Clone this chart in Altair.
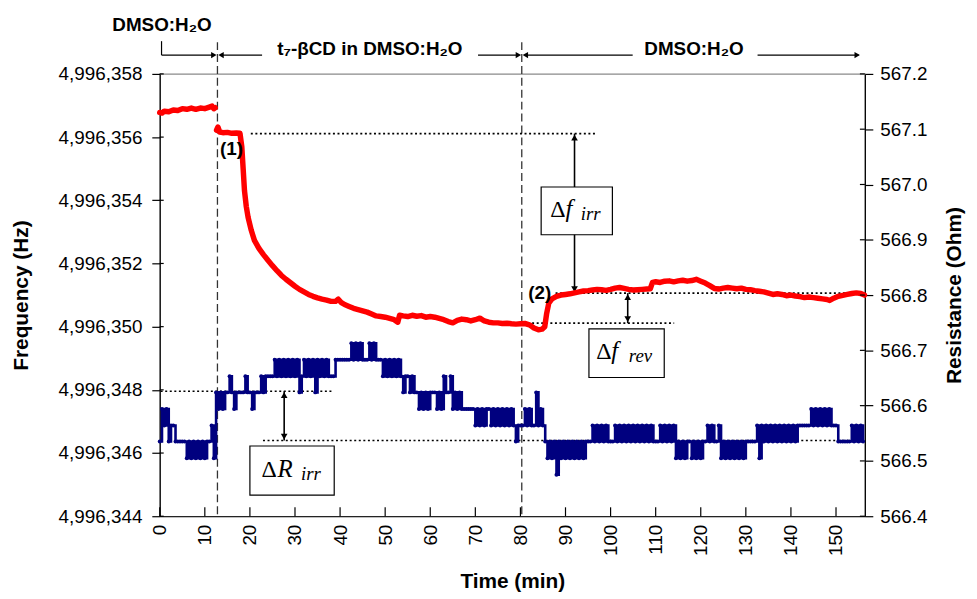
import altair as alt
import pandas as pd

# ---------------- data ----------------
# Frequency trace (red), two segments (break at the solution change)
RED1_T = [0, 0.5, 1, 2, 3, 4, 5, 6, 7, 8, 9, 10, 11, 11.6, 12.0, 12.3]
RED1_F = [4996356.78, 4996356.76, 4996356.82, 4996356.80, 4996356.86, 4996356.84,
          4996356.90, 4996356.88, 4996356.92, 4996356.88, 4996356.92, 4996356.90,
          4996356.95, 4996356.98, 4996356.90, 4996356.93]

RED2_T = [12.6, 12.9, 13.3, 14, 15, 16, 17, 17.8, 18.2, 18.5, 18.8, 19.2, 19.6, 20.3,
          21, 22, 23, 24, 25, 26, 27, 28, 29, 30, 31, 32, 33, 34, 35, 36, 37, 38, 39,
          39.6, 40.2, 41, 42, 43, 44, 45, 46, 47, 48, 49, 50, 51, 52, 52.8, 53.2, 54,
          55, 56, 57, 58, 59, 60, 61, 62, 63, 64, 65, 66, 67, 68, 69, 70, 71, 72, 73,
          74, 75, 76, 77, 78, 79, 80, 81, 82, 83, 84, 84.8, 85.4, 85.8, 86.3, 87, 88,
          89, 90, 91, 92, 93, 94, 95, 96, 97, 98, 99, 100, 101, 102, 103, 104, 105,
          106, 107, 108, 108.8, 109.3, 110, 111, 112, 113, 114, 115, 116, 117, 118,
          119, 120, 121, 122, 123, 124, 125, 126, 127, 128, 129, 130, 131, 132, 133,
          134, 135, 136, 137, 138, 139, 140, 141, 142, 143, 144, 145, 146, 147, 148,
          148.6, 149.5, 150.5, 151.5, 152.5, 153.5, 154.5, 155.5, 156.3]
RED2_F = [4996356.22, 4996356.32, 4996356.16, 4996356.14, 4996356.15, 4996356.12,
          4996356.13, 4996356.12, 4996355.70, 4996355.00, 4996354.30, 4996353.80,
          4996353.46, 4996353.05, 4996352.73, 4996352.48, 4996352.28, 4996352.10,
          4996351.93, 4996351.77, 4996351.62, 4996351.50, 4996351.39, 4996351.28,
          4996351.18, 4996351.10, 4996351.02, 4996350.96, 4996350.91, 4996350.87,
          4996350.84, 4996350.80, 4996350.80, 4996350.87, 4996350.77, 4996350.70,
          4996350.64, 4996350.58, 4996350.54, 4996350.50, 4996350.46, 4996350.40,
          4996350.34, 4996350.32, 4996350.30, 4996350.26, 4996350.22, 4996350.14,
          4996350.36, 4996350.34, 4996350.32, 4996350.36, 4996350.33, 4996350.35,
          4996350.30, 4996350.32, 4996350.30, 4996350.26, 4996350.22, 4996350.16,
          4996350.12, 4996350.20, 4996350.24, 4996350.22, 4996350.18, 4996350.22,
          4996350.27, 4996350.18, 4996350.14, 4996350.12, 4996350.12, 4996350.10,
          4996350.11, 4996350.09, 4996350.08, 4996350.09, 4996350.10, 4996350.06,
          4996349.96, 4996349.90, 4996349.92, 4996350.00, 4996350.40, 4996350.75,
          4996350.88, 4996350.96, 4996351.00, 4996351.02, 4996351.04, 4996351.07,
          4996351.10, 4996351.13, 4996351.14, 4996351.16, 4996351.18, 4996351.17,
          4996351.15, 4996351.18, 4996351.22, 4996351.24, 4996351.21, 4996351.18,
          4996351.16, 4996351.17, 4996351.18, 4996351.19, 4996351.20, 4996351.40,
          4996351.42, 4996351.40, 4996351.44, 4996351.45, 4996351.42, 4996351.45,
          4996351.47, 4996351.44, 4996351.46, 4996351.50, 4996351.44, 4996351.38,
          4996351.30, 4996351.21, 4996351.19, 4996351.22, 4996351.24, 4996351.22,
          4996351.20, 4996351.22, 4996351.18, 4996351.17, 4996351.14, 4996351.12,
          4996351.10, 4996351.06, 4996351.02, 4996351.04, 4996351.02, 4996350.98,
          4996351.00, 4996350.97, 4996350.95, 4996350.92, 4996350.94, 4996350.92,
          4996350.90, 4996350.88, 4996350.86, 4996350.83, 4996350.90, 4996350.96,
          4996350.99, 4996351.02, 4996351.05, 4996351.07, 4996351.05, 4996351.00]

# Resistance trace (blue): quantised instrument levels and the level index of every sample
R_LEVELS = [566.475, 566.505, 566.535, 566.564, 566.594, 566.624, 566.653, 566.683, 566.713]
R_SAMPLE_MIN = 0.5  # sampling interval (min)
R_CODES = [
    2, 4, 3, 4, 2, 3, 3, 2, 2, 2,   # 0-4.5
    2, 2, 1, 2, 1, 2, 1, 2, 1, 2,   # 5
    1, 2, 2, 3, 1, 5, 4, 5, 4, 5,   # 10
    5, 6, 5, 4, 5, 5, 5, 5, 6, 5,   # 15
    5, 4, 5, 5, 5, 6, 5, 6, 6, 6,   # 20
    6, 7, 6, 7, 6, 7, 6, 7, 6, 7,   # 25
    6, 7, 5, 6, 7, 6, 7, 6, 7, 5,   # 30
    7, 6, 7, 6, 7, 6, 6, 6, 7, 7,   # 35
    7, 7, 7, 7, 7, 8, 7, 8, 7, 8,   # 40
    7, 7, 7, 8, 7, 8, 7, 7, 7, 6,   # 45
    7, 6, 7, 6, 7, 6, 7, 6, 5, 6,   # 50
    6, 5, 6, 5, 5, 4, 5, 4, 5, 4,   # 55
    5, 5, 5, 4, 5, 4, 6, 5, 5, 6,   # 60
    4, 5, 4, 5, 4, 4, 4, 4, 4, 4,   # 65
    3, 4, 3, 4, 3, 4, 4, 3, 4, 3,   # 70
    4, 3, 4, 3, 4, 3, 4, 3, 2, 3,   # 75
    3, 3, 4, 3, 4, 3, 3, 5, 3, 4,   # 80
    3, 2, 1, 2, 1, 2, 0, 2, 1, 2,   # 85
    1, 2, 1, 2, 1, 2, 1, 2, 1, 2,   # 90
    2, 2, 3, 2, 3, 2, 3, 2, 3, 2,   # 95
    2, 2, 3, 2, 3, 2, 3, 2, 3, 2,   # 100
    3, 2, 3, 2, 3, 2, 3, 2, 3, 2,   # 105
    2, 2, 3, 2, 3, 2, 3, 2, 3, 1,   # 110
    2, 1, 2, 1, 2, 2, 1, 2, 1, 2,   # 115
    1, 2, 2, 3, 2, 3, 2, 2, 3, 1,   # 120
    2, 1, 2, 1, 2, 1, 2, 1, 2, 1,   # 125
    2, 2, 2, 2, 2, 3, 1, 3, 2, 3,   # 130
    2, 3, 2, 3, 2, 3, 2, 3, 2, 3,   # 135
    2, 3, 2, 3, 3, 3, 3, 3, 3, 4,   # 140
    3, 4, 3, 4, 3, 4, 3, 4, 3, 3,   # 145
    3, 2, 2, 2, 2, 2, 2, 3, 2, 3,   # 150
    2, 3, 2,                        # 155-156
]

X_TICKS = [0, 10, 20, 30, 40, 50, 60, 70, 80, 90, 100, 110, 120, 130, 140, 150]
F_TICKS = [4996344, 4996346, 4996348, 4996350, 4996352, 4996354, 4996356, 4996358]
R_TICKS = [566.4, 566.5, 566.6, 566.7, 566.8, 566.9, 567.0, 567.1, 567.2]

CHANGE_T = [12.8, 80.3]           # solution changes (min)

# annotation values (frequency units)
F_DOTS = [(20.2, 96.8, 4996356.11), (87.8, 156.4, 4996351.06), (74.5, 114.1, 4996350.11)]
F_ARROWS = [(92.0, 4996356.11, 4996351.06), (103.8, 4996351.06, 4996350.11)]
F_BOXES = [(84.6, 100.4, 4996354.42, 4996352.91), (95.2, 111.9, 4996349.93, 4996348.39)]
# annotation values (resistance units)
R_DOTS = [(0.2, 38.3, 566.626), (22.9, 156.4, 566.537)]
R_ARROW = (27.6, 566.626, 566.537)
R_BOX = (20.0, 38.7, 566.527, 566.438)

# ---------------- styling ----------------
W, H = 711, 446
FONT = "Liberation Sans"
SERIF = "Liberation Serif"
RED = "#FF0000"
NAVY = "#00007F"

xs = alt.Scale(domain=[0, 156.4], nice=False, zero=False)
fs = alt.Scale(domain=[4996344, 4996358], nice=False, zero=False)
rs = alt.Scale(domain=[566.4, 567.2], nice=False, zero=False)

x_axis = alt.Axis(values=X_TICKS, labelAngle=270, labelAlign="right", labelBaseline="middle",
                  ticks=False, labelPadding=8, domainColor="black", domainWidth=1.2,
                  labelFont=FONT, labelFontSize=19, labelColor="black", grid=False,
                  title="Time (min)", titleFont=FONT, titleFontSize=21, titleFontWeight="bold",
                  titleColor="black", titleY=66, titleBaseline="middle")
f_axis = alt.Axis(values=F_TICKS, format=",d", orient="left", tickSize=8, tickColor="black",
                  tickWidth=1.2, labelPadding=10, domainColor="black", domainWidth=1.2,
                  labelFont=FONT, labelFontSize=19, labelColor="black", grid=False,
                  title="Frequency (Hz)", titleFont=FONT, titleFontSize=21,
                  titleFontWeight="bold", titleColor="black", titleX=-139, titleY=H / 2,
                  titleAngle=270, titleBaseline="middle", titleAlign="center")
r_axis = alt.Axis(values=R_TICKS, format=".1f", orient="right", tickSize=8, tickColor="black",
                  tickWidth=1.2, labelPadding=7, domainColor="black", domainWidth=1.2,
                  labelFont=FONT, labelFontSize=19, labelColor="black", grid=False,
                  title="Resistance (Ohm)", titleFont=FONT, titleFontSize=21,
                  titleFontWeight="bold", titleColor="black", titleX=90, titleY=H / 2,
                  titleAngle=270, titleBaseline="middle", titleAlign="center")


def X(f):
    return alt.X(f, type="quantitative", scale=xs, axis=x_axis)


def FY(f):
    return alt.Y(f, type="quantitative", scale=fs, axis=f_axis)


def RY(f):
    return alt.Y(f, type="quantitative", scale=rs, axis=r_axis)


# ---------------- frequency group ----------------
red_df = pd.DataFrame({
    "t": RED1_T + RED2_T,
    "f": RED1_F + RED2_F,
    "seg": ["a"] * len(RED1_T) + ["b"] * len(RED2_T),
})
red = alt.Chart(red_df).mark_line(color=RED, strokeWidth=5.5, strokeJoin="round",
                                  strokeCap="round").encode(x=X("t"), y=FY("f"), detail="seg:N")

fdots_df = pd.DataFrame(F_DOTS, columns=["t1", "t2", "f"])
fdots = alt.Chart(fdots_df).mark_rule(color="black", strokeWidth=1.7, strokeDash=[2, 2.6]).encode(
    x=X("t1"), x2=alt.X2("t2"), y=FY("f"))

farr_df = pd.DataFrame(F_ARROWS, columns=["t", "f1", "f2"])
farr = alt.Chart(farr_df).mark_rule(color="black", strokeWidth=1.6).encode(
    x=X("t"), y=FY("f1"), y2=alt.Y2("f2"))
fhead_up = alt.Chart(farr_df).mark_point(shape="triangle-up", filled=True, color="black",
                                         size=45, opacity=1, yOffset=4).encode(x=X("t"), y=FY("f1"))
fhead_dn = alt.Chart(farr_df).mark_point(shape="triangle-down", filled=True, color="black",
                                         size=45, opacity=1, yOffset=-4).encode(x=X("t"), y=FY("f2"))

fbox_df = pd.DataFrame(F_BOXES, columns=["t1", "t2", "f1", "f2"])
fbox = alt.Chart(fbox_df).mark_rect(fill="white", stroke="black", strokeWidth=1.2).encode(
    x=X("t1"), x2=alt.X2("t2"), y=FY("f1"), y2=alt.Y2("f2"))

box_layers = []
box_specs = [
    # centre t, centre value, letter, subscript, dx of parts
    ((84.6 + 100.4) / 2, (4996354.42 + 4996352.91) / 2, "f", "irr", (-19, -8, 14)),
    ((95.2 + 111.9) / 2, (4996349.93 + 4996348.39) / 2, "f", "rev", (-23, -12, 14)),
]
for ct, cv, letter, sub, dxs in box_specs:
    d = pd.DataFrame({"t": [ct], "v": [cv]})
    base = alt.Chart(d)
    box_layers.append(base.mark_text(text="Δ", font=SERIF, fontSize=24, color="black",
                                     dx=dxs[0], dy=6, baseline="alphabetic").encode(x=X("t"), y=FY("v")))
    box_layers.append(base.mark_text(text=letter, font=SERIF, fontSize=25, fontStyle="italic",
                                     color="black", dx=dxs[1], dy=6, baseline="alphabetic"
                                     ).encode(x=X("t"), y=FY("v")))
    box_layers.append(base.mark_text(text=sub, font=SERIF, fontSize=19, fontStyle="italic",
                                     color="black", dx=dxs[2], dy=9, baseline="alphabetic"
                                     ).encode(x=X("t"), y=FY("v")))

labels_df = pd.DataFrame({"t": [15.9, 84.3], "f": [4996355.63, 4996351.06], "txt": ["(1)", "(2)"]})
labels = alt.Chart(labels_df).mark_text(font=FONT, fontSize=19, fontWeight="bold",
                                        color="black").encode(x=X("t"), y=FY("f"), text="txt:N")

# crossing parts of ticks (inside the plot)
xt_df = pd.DataFrame({"v": X_TICKS})
xticks_in = alt.Chart(xt_df).mark_rule(color="black", strokeWidth=1.2).encode(
    x=X("v"), y=alt.value(H - 9), y2=alt.value(H))
ft_df = pd.DataFrame({"v": F_TICKS})
fticks_in = alt.Chart(ft_df).mark_rule(color="black", strokeWidth=1.2).encode(
    x=alt.value(0), x2=alt.value(4), y=FY("v"))

# solution-change dashed lines and the header arrows
ch_df = pd.DataFrame({"t": CHANGE_T})
dashed = alt.Chart(ch_df).mark_rule(color="#333333", strokeWidth=1.3, strokeDash=[8, 4]).encode(
    x=X("t"), y=alt.value(-32), y2=alt.value(H))

hdr_df = pd.DataFrame({"t1": [0.4, 13.6, 70.6, 81.2, 132.6], "t2": [12.0, 22.7, 79.5, 104.9, 155.0]})
hdr_lines = alt.Chart(hdr_df).mark_rule(color="black", strokeWidth=1.2).encode(
    x=X("t1"), x2=alt.X2("t2"), y=alt.value(-19))
brk_df = pd.DataFrame({"t": [0.4]})
bracket = alt.Chart(brk_df).mark_rule(color="black", strokeWidth=1.2).encode(
    x=X("t"), y=alt.value(-33), y2=alt.value(-19))
hr_df = pd.DataFrame({"t": [12.0, 79.55, 154.7]})
hl_df = pd.DataFrame({"t": [13.6, 81.1]})
heads_r = alt.Chart(hr_df).mark_point(shape="triangle-right", filled=True, color="black", size=40,
                                      opacity=1).encode(x=X("t"), y=alt.value(-19))
heads_l = alt.Chart(hl_df).mark_point(shape="triangle-left", filled=True, color="black", size=40,
                                      opacity=1).encode(x=X("t"), y=alt.value(-19))

hdr_texts = []
for txt, t, py in [("DMSO:H₂O", 0.5, -43), ("t₇-βCD in DMSO:H₂O", 46.6, -19),
                   ("DMSO:H₂O", 118.5, -19)]:
    hdr_texts.append(alt.Chart(pd.DataFrame({"t": [t]})).mark_text(
        text=txt, font=FONT, fontSize=19, fontWeight="bold", color="black",
        baseline="alphabetic", align="center").encode(x=X("t"), y=alt.value(py)))

freq_group = alt.layer(dashed, fdots, farr, fhead_up, fhead_dn, fbox, *box_layers, red, labels,
                       xticks_in, fticks_in, hdr_lines, bracket, heads_r, heads_l, *hdr_texts)

# ---------------- resistance group ----------------
blue_df = pd.DataFrame({
    "t": [i * R_SAMPLE_MIN for i in range(len(R_CODES))],
    "r": [R_LEVELS[c] for c in R_CODES],
})
blue = alt.Chart(blue_df).mark_line(
    interpolate="step-after", color=NAVY, strokeWidth=2.6,
    point=alt.OverlayMarkDef(filled=True, size=16, color=NAVY)
).encode(x=X("t"), y=RY("r"))

rdots_df = pd.DataFrame(R_DOTS, columns=["t1", "t2", "r"])
rdots = alt.Chart(rdots_df).mark_rule(color="black", strokeWidth=1.7, strokeDash=[2, 2.6]).encode(
    x=X("t1"), x2=alt.X2("t2"), y=RY("r"))
rarr_df = pd.DataFrame([R_ARROW], columns=["t", "r1", "r2"])
rarr = alt.Chart(rarr_df).mark_rule(color="black", strokeWidth=1.6).encode(
    x=X("t"), y=RY("r1"), y2=alt.Y2("r2"))
rhead_up = alt.Chart(rarr_df).mark_point(shape="triangle-up", filled=True, color="black",
                                         size=45, opacity=1, yOffset=4).encode(x=X("t"), y=RY("r1"))
rhead_dn = alt.Chart(rarr_df).mark_point(shape="triangle-down", filled=True, color="black",
                                         size=45, opacity=1, yOffset=-4).encode(x=X("t"), y=RY("r2"))
rbox_df = pd.DataFrame([R_BOX], columns=["t1", "t2", "r1", "r2"])
rbox = alt.Chart(rbox_df).mark_rect(fill="white", stroke="black", strokeWidth=1.2).encode(
    x=X("t1"), x2=alt.X2("t2"), y=RY("r1"), y2=alt.Y2("r2"))
rc = pd.DataFrame({"t": [(R_BOX[0] + R_BOX[1]) / 2], "v": [(R_BOX[2] + R_BOX[3]) / 2]})
rbase = alt.Chart(rc)
rtexts = [
    rbase.mark_text(text="Δ", font=SERIF, fontSize=24, color="black", dx=-23, dy=6,
                    baseline="alphabetic").encode(x=X("t"), y=RY("v")),
    rbase.mark_text(text="R", font=SERIF, fontSize=25, fontStyle="italic", color="black",
                    dx=-7, dy=6, baseline="alphabetic").encode(x=X("t"), y=RY("v")),
    rbase.mark_text(text="irr", font=SERIF, fontSize=19, fontStyle="italic", color="black",
                    dx=19, dy=9, baseline="alphabetic").encode(x=X("t"), y=RY("v")),
]
rt_df = pd.DataFrame({"v": R_TICKS})
rticks_in = alt.Chart(rt_df).mark_rule(color="black", strokeWidth=1.2).encode(
    x=alt.value(W - 5), x2=alt.value(W), y=RY("v"))

res_group = alt.layer(rdots, blue, rarr, rhead_up, rhead_dn, rbox, *rtexts, rticks_in)

chart = alt.layer(freq_group, res_group).resolve_scale(y="independent").properties(
    width=W, height=H,
    padding={"left": 153, "top": 64, "right": 105, "bottom": 80},
    autosize=alt.AutoSizeParams(type="none"),
    background="white",
).configure_view(stroke="#8a8a8a", strokeWidth=1.2)

chart.save("out.html", embed_options={"renderer": "svg", "actions": False})
